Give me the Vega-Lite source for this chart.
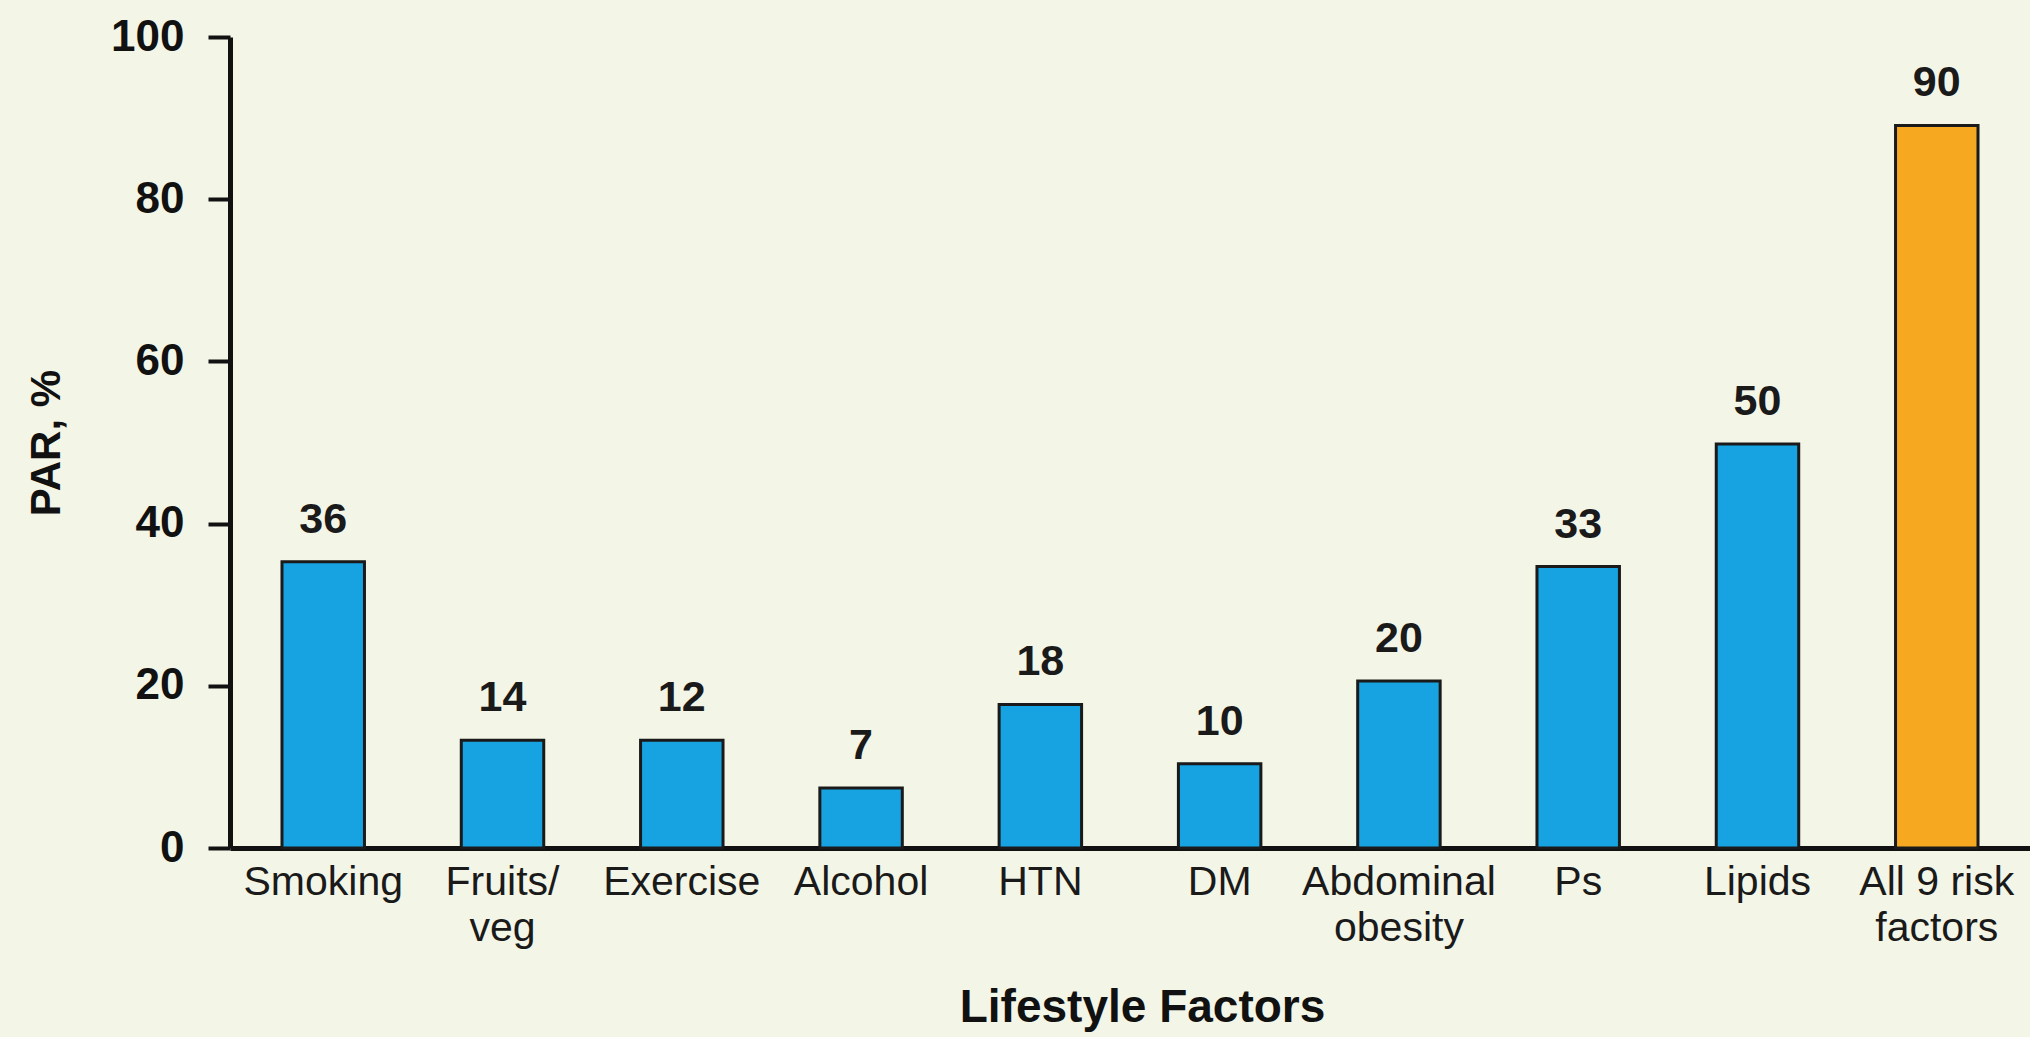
{
  "$schema": "https://vega.github.io/schema/vega-lite/v6.json",
  "autosize": {"type": "none"},
  "width": 1800,
  "height": 811,
  "padding": {"left": 230, "top": 37, "right": 0, "bottom": 189},
  "background": "#f3f5e7",
  "config": {
    "view": {"stroke": null},
    "font": "Liberation Sans"
  },
  "data": {
    "values": [
      {"factor": "Smoking", "par": 35.3, "label": "36", "group": "single"},
      {"factor": "Fruits/\nveg", "par": 13.3, "label": "14", "group": "single"},
      {"factor": "Exercise", "par": 13.3, "label": "12", "group": "single"},
      {"factor": "Alcohol", "par": 7.4, "label": "7", "group": "single"},
      {"factor": "HTN", "par": 17.7, "label": "18", "group": "single"},
      {"factor": "DM", "par": 10.4, "label": "10", "group": "single"},
      {"factor": "Abdominal\nobesity", "par": 20.6, "label": "20", "group": "single"},
      {"factor": "Ps", "par": 34.7, "label": "33", "group": "single"},
      {"factor": "Lipids", "par": 49.8, "label": "50", "group": "single"},
      {"factor": "All 9 risk\nfactors", "par": 89.1, "label": "90", "group": "all"}
    ]
  },
  "encoding": {
    "x": {
      "field": "factor",
      "type": "nominal",
      "sort": null,
      "scale": {"paddingInner": 0.54, "paddingOuter": 0.29},
      "axis": {
        "title": "Lifestyle Factors",
        "titleFont": "Liberation Sans",
        "titleFontSize": 46,
        "titleFontWeight": "bold",
        "titleColor": "#111111",
        "titlePadding": 37,
        "titleX": 912,
        "labelExpr": "split(datum.value, '\\n')",
        "labelAngle": 0,
        "labelLimit": 0,
        "labelFontSize": 41,
        "labelColor": "#1a1a1a",
        "labelLineHeight": 46,
        "labelPadding": 14,
        "ticks": false,
        "tickSize": 0,
        "domainColor": "#111111",
        "domainWidth": 5
      }
    },
    "y": {
      "field": "par",
      "type": "quantitative",
      "scale": {"domain": [0, 100]},
      "axis": {
        "title": "PAR, %",
        "titleFont": "Liberation Sans",
        "titleFontSize": 42,
        "titleFontWeight": "bold",
        "titleColor": "#111111",
        "titlePadding": 42,
        "values": [0, 20, 40, 60, 80, 100],
        "labelFontSize": 44,
        "labelFontWeight": "bold",
        "labelColor": "#111111",
        "labelPadding": 24,
        "tickSize": 22,
        "tickWidth": 4,
        "tickColor": "#111111",
        "domainColor": "#111111",
        "domainWidth": 5,
        "grid": false
      }
    }
  },
  "layer": [
    {
      "mark": {"type": "bar", "stroke": "#1a1a1a", "strokeWidth": 3},
      "encoding": {
        "color": {
          "field": "group",
          "type": "nominal",
          "scale": {"domain": ["single", "all"], "range": ["#17a2e2", "#f6a820"]},
          "legend": null
        }
      }
    },
    {
      "mark": {"type": "text", "baseline": "alphabetic", "dy": -29, "fontSize": 43, "fontWeight": "bold", "color": "#1a1a1a"},
      "encoding": {"text": {"field": "label"}}
    }
  ]
}
